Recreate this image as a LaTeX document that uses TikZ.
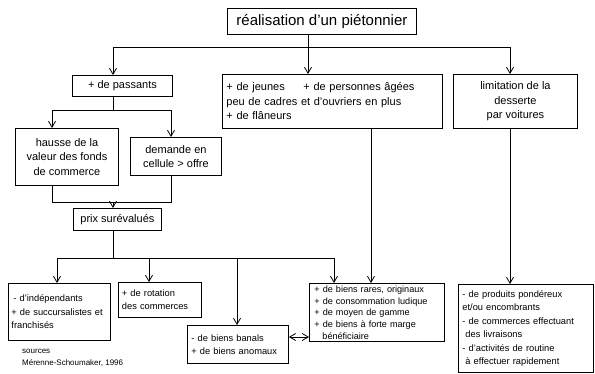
\documentclass[tikz,border=0pt]{standalone}
\usepackage{fontspec}
\setmainfont{Liberation Sans}
\usetikzlibrary{arrows.meta}
\begin{document}
\begin{tikzpicture}[x=1pt,y=-1pt,
  box/.style={draw, line width=0.9pt, inner sep=0pt, anchor=north west},
  up/.style={font=\fontsize{11}{14.5}\selectfont},
  low/.style={font=\fontsize{9.3}{13.4}\selectfont},
  conn/.style={line width=0.8pt},
  arr/.style={conn, -{Straight Barb[length=6pt,width=7pt]}},
  darr/.style={conn, {Straight Barb[length=6pt,width=7pt]}-{Straight Barb[length=6pt,width=7pt]}}]
\useasboundingbox (0,0) rectangle (595,373);
\clip (0,0) rectangle (595,373);
% boxes
\node[box, minimum width=189pt, minimum height=26pt, font=\fontsize{15}{18}\selectfont] (title) at (227,8) {réalisation d’un piétonnier};
\node[box, up, minimum width=100pt, minimum height=21pt] (passants) at (72,75) {+ de passants};
\node[box, up, minimum width=220pt, minimum height=54pt, text width=212pt, align=left] (middle) at (222,74)
  {\makebox[77pt][l]{+ de jeunes}+ de personnes âgées\\peu de cadres et d’ouvriers en plus\\+ de flâneurs};
\node[box, up, minimum width=124pt, minimum height=54pt, align=center] (right) at (453,74)
  {limitation de la\\desserte\\par voitures};
\node[box, up, minimum width=103pt, minimum height=57pt, align=center] (hausse) at (15,128)
  {hausse de la\\valeur des fonds\\de commerce};
\node[box, up, minimum width=91pt, minimum height=38pt, align=center] (demande) at (130,137)
  {demande en\\cellule > offre};
\node[box, up, minimum width=88pt, minimum height=22pt] (prix) at (73,208) {prix surévalués};
\node[box, low, minimum width=102pt, minimum height=57pt, text width=96pt, align=left] (indep) at (8,283)
  {\hspace*{2pt}- d’indépendants\\+ de succursalistes et\\franchisés};
\node[box, low, minimum width=83pt, minimum height=35pt, text width=76pt, align=left] (rotation) at (118,282)
  {+ de rotation\\des commerces};
\node[box, low, minimum width=101pt, minimum height=38pt, text width=93pt, align=left] (banals) at (187,325)
  {- de biens banals\\+ de biens anomaux};
\node[box, font=\fontsize{9.1}{11.7}\selectfont, minimum width=135pt, minimum height=58pt, text width=125pt, align=left] (rares) at (309,283)
  {+ de biens rares, originaux\\+ de consommation ludique\\+ de moyen de gamme\\+ de biens à forte marge\\\hspace*{8pt}bénéficiaire};
\node[box, low, minimum width=135pt, minimum height=88pt, text width=127pt, align=left] (br) at (458,284)
  {- de produits pondéreux\\et/ou encombrants\\- de commerces effectuant\\\hspace*{3pt}des livraisons\\- d’activités de routine\\\hspace*{3pt}à effectuer rapidement};
\node[anchor=north west, inner sep=0pt, font=\fontsize{8}{12}\selectfont, align=left] (src) at (22,349)
  {sources\\Mérenne-Schoumaker, 1996};
% coordinates
\coordinate (j1) at (308,47);
\coordinate (jL) at (113,47);
\coordinate (jR) at (510,47);
\coordinate (p1) at (113,110);
\coordinate (pL) at (52,110);
\coordinate (pR) at (171,110);
\coordinate (q1) at (113,202);
\coordinate (qL) at (52,202);
\coordinate (qR) at (171,202);
\coordinate (r1) at (113,258);
\coordinate (rL) at (57,258);
\coordinate (rA) at (149,258);
\coordinate (rB) at (237,258);
\coordinate (rR) at (334,258);
\coordinate (m1) at (371,0);
\coordinate (d1) at (0,337);
% connectors
\draw[conn] (title.south -| j1) -- (j1);
\draw[arr] (j1) -- (jL) -- (jL |- passants.north);
\draw[arr] (j1) -- (jR) -- (jR |- right.north);
\draw[arr] (j1) -- (j1 |- middle.north);
\draw[conn] (passants.south -| p1) -- (p1);
\draw[arr] (p1) -- (pL) -- (pL |- hausse.north);
\draw[arr] (p1) -- (pR) -- (pR |- demande.north);
\draw[conn] (qL |- hausse.south) -- (qL) -- (qR) -- (qR |- demande.south);
\draw[arr] (q1) -- (q1 |- prix.north);
\draw[conn] (prix.south -| r1) -- (r1);
\draw[arr] (r1) -- (rL) -- (rL |- indep.north);
\draw[arr] (rA) -- (rA |- rotation.north);
\draw[arr] (rB) -- (rB |- banals.north);
\draw[arr] (r1) -- (rR) -- (rR |- rares.north);
\draw[arr] (middle.south -| m1) -- (rares.north -| m1);
\draw[arr] (right.south -| jR) -- (br.north -| jR);
\draw[darr] (banals.east |- d1) -- (rares.west |- d1);
\end{tikzpicture}
\end{document}
